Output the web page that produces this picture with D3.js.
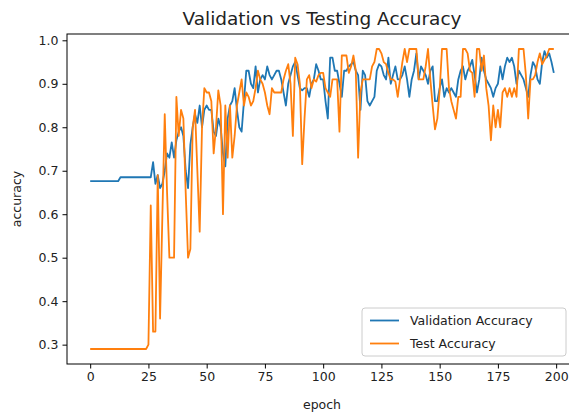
<!DOCTYPE html>
<html>
<head>
<meta charset="utf-8">
<script src="https://cdn.jsdelivr.net/npm/d3@7"></script>
<style>
  body { margin: 0; background: #fff; }
  svg { display: block; font-family: "DejaVu Sans", sans-serif; }
</style>
</head>
<body>
<div id="chart"></div>
<script>
// values, one per epoch (0..199)
const valAcc = [
  0.676, 0.676, 0.676, 0.676, 0.676, 0.676, 0.676, 0.676, 0.676, 0.676,
  0.676, 0.676, 0.676, 0.685, 0.685, 0.685, 0.685, 0.685, 0.685, 0.685,
  0.685, 0.685, 0.685, 0.685, 0.685, 0.685, 0.685, 0.72, 0.67, 0.69,
  0.66, 0.67, 0.70, 0.74, 0.73, 0.765, 0.73, 0.77, 0.79, 0.80,
  0.78, 0.70, 0.66, 0.76, 0.80, 0.83, 0.81, 0.85, 0.80, 0.84,
  0.85, 0.84, 0.84, 0.79, 0.78, 0.82, 0.80, 0.74, 0.71, 0.82,
  0.85, 0.86, 0.89, 0.84, 0.80, 0.79, 0.86, 0.93, 0.93, 0.90,
  0.89, 0.94, 0.88, 0.91, 0.92, 0.91, 0.94, 0.92, 0.91, 0.92,
  0.93, 0.93, 0.91, 0.88, 0.85, 0.90, 0.92, 0.94, 0.95, 0.92,
  0.89, 0.885, 0.89, 0.89, 0.87, 0.90, 0.91, 0.945, 0.93, 0.91,
  0.91, 0.86, 0.82, 0.96, 0.96, 0.93, 0.93, 0.90, 0.87, 0.93,
  0.93, 0.94, 0.945, 0.95, 0.93, 0.92, 0.84, 0.93, 0.92, 0.86,
  0.85, 0.86, 0.87, 0.93, 0.945, 0.94, 0.92, 0.91, 0.96, 0.90,
  0.92, 0.94, 0.91, 0.91, 0.92, 0.94, 0.91, 0.87, 0.91, 0.93,
  0.97, 0.91, 0.94, 0.93, 0.92, 0.90, 0.93, 0.94, 0.86, 0.86,
  0.89, 0.91, 0.87, 0.89, 0.88, 0.89, 0.88, 0.87, 0.91, 0.93,
  0.94, 0.91, 0.93, 0.94, 0.955, 0.92, 0.88, 0.91, 0.96, 0.93,
  0.91, 0.90, 0.89, 0.87, 0.89, 0.90, 0.94, 0.91, 0.94, 0.96,
  0.95, 0.96, 0.94, 0.90, 0.93, 0.92, 0.91, 0.89, 0.87, 0.92,
  0.95, 0.94, 0.91, 0.90, 0.95, 0.975, 0.96, 0.97, 0.95, 0.925
];

const testAcc = [
  0.29, 0.29, 0.29, 0.29, 0.29, 0.29, 0.29, 0.29, 0.29, 0.29,
  0.29, 0.29, 0.29, 0.29, 0.29, 0.29, 0.29, 0.29, 0.29, 0.29,
  0.29, 0.29, 0.29, 0.29, 0.29, 0.30, 0.62, 0.33, 0.33, 0.69,
  0.36, 0.60, 0.83, 0.65, 0.50, 0.50, 0.50, 0.87, 0.78, 0.84,
  0.82, 0.65, 0.50, 0.52, 0.80, 0.84, 0.70, 0.56, 0.80, 0.89,
  0.88, 0.88, 0.86, 0.74, 0.80, 0.885, 0.85, 0.60, 0.85, 0.73,
  0.85, 0.73, 0.78, 0.85, 0.88, 0.91, 0.85, 0.88, 0.87, 0.85,
  0.86, 0.89, 0.93, 0.91, 0.90, 0.88, 0.85, 0.83, 0.89, 0.88,
  0.88, 0.88, 0.88, 0.91, 0.93, 0.945, 0.90, 0.78, 0.96, 0.945,
  0.90, 0.715, 0.82, 0.91, 0.92, 0.89, 0.91, 0.905, 0.92, 0.925,
  0.925, 0.89, 0.88, 0.87, 0.91, 0.91, 0.91, 0.79, 0.965, 0.965,
  0.965, 0.925, 0.94, 0.965, 0.93, 0.73, 0.88, 0.91, 0.91, 0.91,
  0.91, 0.94, 0.95, 0.98, 0.98, 0.97, 0.95, 0.945, 0.925, 0.91,
  0.91, 0.905, 0.87, 0.91, 0.95, 0.98, 0.95, 0.98, 0.98, 0.98,
  0.98, 0.91, 0.91, 0.91, 0.94, 0.98, 0.91, 0.85, 0.795, 0.82,
  0.885, 0.98, 0.98, 0.98, 0.89, 0.86, 0.84, 0.82, 0.87, 0.87,
  0.98, 0.98, 0.97, 0.93, 0.925, 0.87, 0.98, 0.98, 0.93, 0.965,
  0.89, 0.85, 0.77, 0.85, 0.80, 0.84, 0.80, 0.88, 0.89, 0.87,
  0.89, 0.87, 0.89, 0.87, 0.98, 0.98, 0.98, 0.92, 0.82, 0.91,
  0.91, 0.92, 0.95, 0.97, 0.945, 0.955, 0.965, 0.98, 0.98, 0.98
];

const xTicks = [0, 25, 50, 75, 100, 125, 150, 175, 200];
const yTicks = [0.3, 0.4, 0.5, 0.6, 0.7, 0.8, 0.9, 1.0];
const seriesNames = ["Validation Accuracy", "Test Accuracy"];
const seriesColors = ["#1f77b4", "#ff7f0e"];

const epochs = d3.range(valAcc.length);

const width = 569, height = 414;
// axes box (right edge falls just outside the picture, like the original)
const box = { left: 67, right: 577, top: 34, bottom: 364 };

const svg = d3.select("#chart")
  .append("svg")
  .attr("width", width)
  .attr("height", height);

// matplotlib style 5% margins on data extent
const xMax = epochs.length - 1;
const xPad = xMax * 0.05;
const x = d3.scaleLinear()
  .domain([-xPad, xMax + xPad])
  .range([box.left, box.right]);

const allVals = valAcc.concat(testAcc);
const yMin = d3.min(allVals), yMaxV = d3.max(allVals);
const yPad = (yMaxV - yMin) * 0.05;
const y = d3.scaleLinear()
  .domain([yMin - yPad, yMaxV + yPad])
  .range([box.bottom, box.top]);

// axes
const xAxis = svg.append("g")
  .attr("transform", `translate(0,${box.bottom})`)
  .call(d3.axisBottom(x).tickValues(xTicks).tickSize(4.5).tickPadding(4).tickFormat(d3.format("d")));

const yAxis = svg.append("g")
  .attr("transform", `translate(${box.left},0)`)
  .call(d3.axisLeft(y).tickValues(yTicks).tickSize(4.5).tickPadding(4).tickFormat(d3.format(".1f")));

[xAxis, yAxis].forEach(g => {
  g.select(".domain").remove();
  g.selectAll("line").attr("stroke", "#000").attr("stroke-width", 1);
  g.selectAll("text")
    .attr("fill", "#222")
    .style("font-size", "12.5px")
    .style("font-family", "'DejaVu Sans', sans-serif");
});

// lines
const line = d3.line()
  .x((d, i) => x(epochs[i]))
  .y(d => y(d));

[valAcc, testAcc].forEach((series, k) => {
  svg.append("path")
    .datum(series)
    .attr("fill", "none")
    .attr("stroke", seriesColors[k])
    .attr("stroke-width", 1.8)
    .attr("stroke-linejoin", "round")
    .attr("d", line);
});

// spines
svg.append("rect")
  .attr("x", box.left)
  .attr("y", box.top)
  .attr("width", box.right - box.left)
  .attr("height", box.bottom - box.top)
  .attr("fill", "none")
  .attr("stroke", "#000")
  .attr("stroke-width", 1);

// title and labels
svg.append("text")
  .attr("x", (box.left + box.right) / 2)
  .attr("y", 25)
  .attr("text-anchor", "middle")
  .attr("fill", "#222")
  .style("font-size", "18.5px")
  .text("Validation vs Testing Accuracy");

svg.append("text")
  .attr("x", (box.left + box.right) / 2)
  .attr("y", 409)
  .attr("text-anchor", "middle")
  .attr("fill", "#222")
  .style("font-size", "12.5px")
  .text("epoch");

svg.append("text")
  .attr("transform", `translate(21,${(box.top + box.bottom) / 2}) rotate(-90)`)
  .attr("text-anchor", "middle")
  .attr("fill", "#222")
  .style("font-size", "12.5px")
  .text("accuracy");

// legend, lower right
const legend = svg.append("g").attr("transform", "translate(362,308)");
legend.append("rect")
  .attr("width", 204)
  .attr("height", 48)
  .attr("rx", 3)
  .attr("fill", "#fff")
  .attr("fill-opacity", 0.8)
  .attr("stroke", "#cccccc")
  .attr("stroke-width", 1);

seriesNames.forEach((name, i) => {
  const row = legend.append("g").attr("transform", `translate(0,${12.5 + i * 23})`);
  row.append("line")
    .attr("x1", 8).attr("x2", 37)
    .attr("stroke", seriesColors[i])
    .attr("stroke-width", 1.8);
  row.append("text")
    .attr("x", 48)
    .attr("y", 4.5)
    .attr("fill", "#222")
    .style("font-size", "12.5px")
    .text(name);
});
</script>
</body>
</html>
